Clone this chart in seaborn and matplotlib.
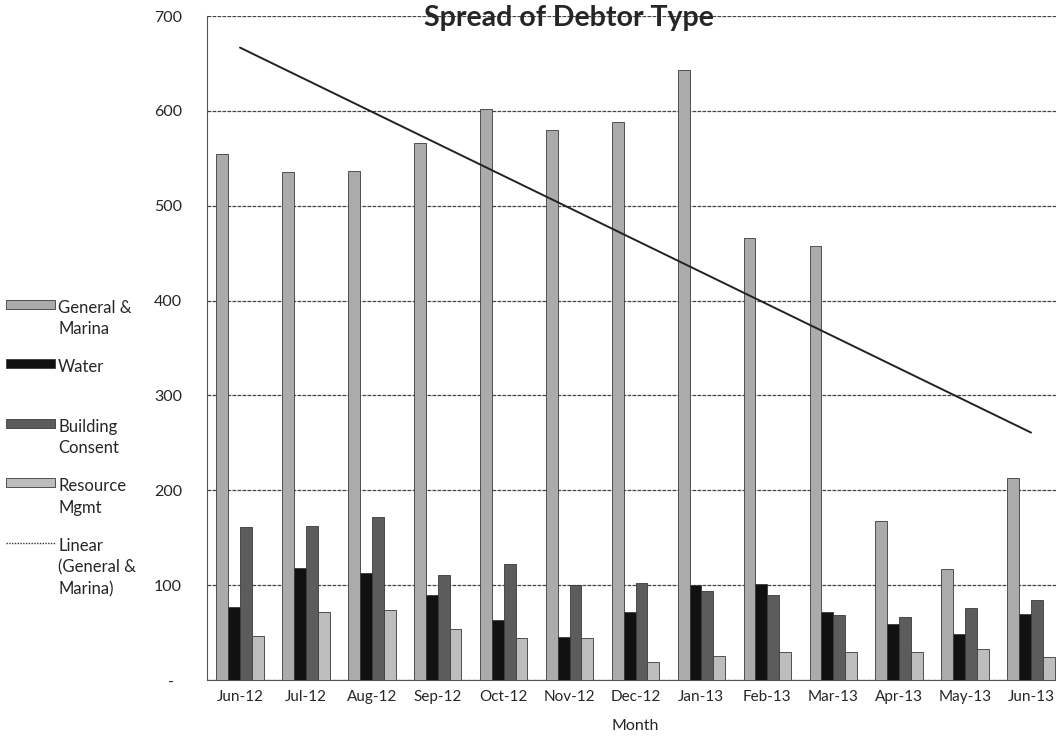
import numpy as np
import pandas as pd
import seaborn as sns
import matplotlib.pyplot as plt
from matplotlib.patches import Patch
from matplotlib.lines import Line2D

months = ["Jun-12", "Jul-12", "Aug-12", "Sep-12", "Oct-12", "Nov-12", "Dec-12",
          "Jan-13", "Feb-13", "Mar-13", "Apr-13", "May-13", "Jun-13"]
general_marina = [555, 536, 537, 566, 602, 580, 588, 643, 466, 458, 168, 117, 213]
water = [77, 118, 113, 90, 63, 45, 72, 100, 101, 72, 59, 49, 70]
building_consent = [161, 162, 172, 111, 122, 100, 102, 94, 90, 69, 66, 76, 84]
resource_mgmt = [46, 72, 74, 54, 44, 44, 19, 25, 29, 30, 30, 33, 24]
types = ["General &\nMarina", "Water", "Building\nConsent", "Resource\nMgmt"]

gm_col = "#ababab"
water_col = "#111111"
bc_col = "#5c5c5c"
rm_col = "#bdbdbd"
colors = [gm_col, water_col, bc_col, rm_col]

df = pd.DataFrame({
    "Month": months * 4,
    "Type": [t for t in types for _ in months],
    "Count": general_marina + water + building_consent + resource_mgmt,
})

sns.set_style("white")
plt.rcParams["font.family"] = ["Lato", "DejaVu Sans"]

fig = plt.figure(figsize=(10.56, 7.40), dpi=100)
ax = fig.add_axes([207 / 1056, 1 - 680 / 740, 857 / 1056, 664 / 740])

sns.barplot(data=df, x="Month", y="Count", hue="Type", palette=colors,
            width=0.72, gap=0, edgecolor="#3a3a3a", linewidth=0.6,
            legend=False, ax=ax, zorder=3)

# linear trend of General & Marina
xs = np.arange(len(months))
slope, icpt = np.polyfit(xs, general_marina, 1)
ax.plot(xs, slope * xs + icpt, color="#222222", lw=1.4, zorder=4)

ax.set_ylim(0, 700)
ax.set_xlim(-0.5, len(months) - 0.5)
ax.set_yticks(range(0, 701, 100))
ax.set_yticklabels(["-  "] + [str(v) for v in range(100, 701, 100)])
ax.yaxis.grid(True, color="#444444", lw=0.9, ls=(0, (3, 1)))
ax.set_axisbelow(True)

ax.set_xticks(np.arange(-0.5, len(months), 1), minor=True)
ax.tick_params(axis="x", which="major", length=0, pad=7, labelsize=11)
ax.tick_params(axis="x", which="minor", length=4, direction="out", color="#444444")
ax.tick_params(axis="y", length=4, direction="out", pad=14, labelsize=11.5, color="#444444")

for s in ["top", "right"]:
    ax.spines[s].set_visible(False)
ax.spines["left"].set_color("#555555")
ax.spines["left"].set_linestyle((0, (2, 1)))
ax.spines["bottom"].set_color("#555555")

ax.set_xlabel("Month", fontsize=11.5, labelpad=11)
ax.set_ylabel("")

fig.text(569 / 1056, 1 - 18 / 740, "Spread of Debtor Type", ha="center", va="center",
         fontsize=20.5, fontweight="bold")

handles = [Patch(facecolor=c, edgecolor="#3a3a3a", lw=0.6) for c in colors]
handles.append(Line2D([0], [0], color="#333333", lw=1, ls=(0, (1, 1))))
labels = ["General &\nMarina", "Water\n ", "Building\nConsent", "Resource\nMgmt",
          "Linear\n(General &\nMarina)"]
leg = fig.legend(handles, labels, loc="upper left", bbox_to_anchor=(0.006, 1 - 300 / 740),
                 frameon=False, fontsize=12, handlelength=2.9, handleheight=0.42,
                 handletextpad=0.2, labelspacing=1.32, borderpad=0, borderaxespad=0)
for t in leg.texts:
    t.set_linespacing(1.42)
# keep each key level with the first line of its label
for col in leg._legend_handle_box.get_children():
    for row in col.get_children():
        row.align = "top"

fig.savefig("out.png", dpi=100)
